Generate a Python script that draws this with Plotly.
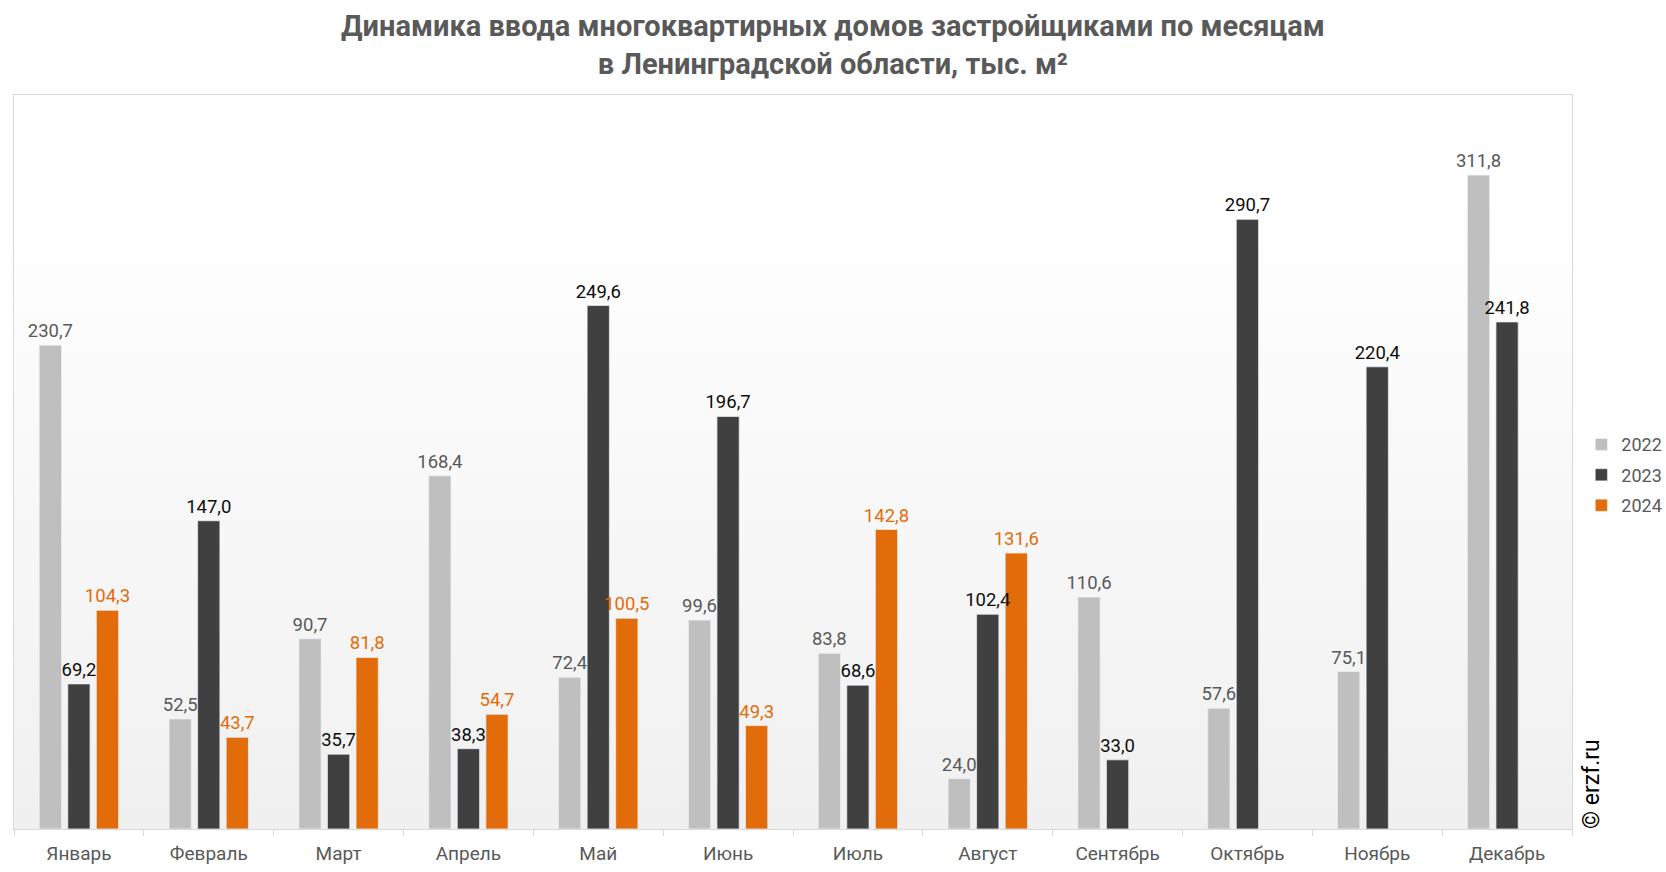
import plotly.graph_objects as go

months = ["Январь", "Февраль", "Март", "Апрель", "Май", "Июнь", "Июль",
          "Август", "Сентябрь", "Октябрь", "Ноябрь", "Декабрь"]
v2022 = [230.7, 52.5, 90.7, 168.4, 72.4, 99.6, 83.8, 24.0, 110.6, 57.6, 75.1, 311.8]
v2023 = [69.2, 147.0, 35.7, 38.3, 249.6, 196.7, 68.6, 102.4, 33.0, 290.7, 220.4, 241.8]
v2024 = [104.3, 43.7, 81.8, 54.7, 100.5, 49.3, 142.8, 131.6, None, None, None, None]

series = [
    ("2022", v2022, "#BFBFBF", "#595959"),
    ("2023", v2023, "#404040", "#0D0D0D"),
    ("2024", v2024, "#E36C0A", "#E36C0A"),
]

def fmt(v):
    return "" if v is None else f"{v:.1f}".replace(".", ",")

fig = go.Figure()
# bars
for name, vals, color, tcolor in series:
    fig.add_trace(go.Bar(
        x=months, y=vals, name=name, offsetgroup=name, legendgroup=name,
        marker=dict(color=color, line=dict(color="rgba(255,255,255,0.35)", width=1)),
        cliponaxis=False,
    ))
# value labels drawn above all bars
for name, vals, color, tcolor in series:
    fig.add_trace(go.Bar(
        x=months, y=vals, name=name, offsetgroup=name, legendgroup=name,
        showlegend=False, hoverinfo="skip",
        marker=dict(color="rgba(0,0,0,0)"),
        text=[fmt(v) for v in vals], textposition="outside",
        textfont=dict(family="Roboto", size=18.5, color=tcolor),
        constraintext="none", cliponaxis=False,
    ))

grad_svg = ("data:image/svg+xml;utf8,<svg xmlns='http://www.w3.org/2000/svg' width='100' height='100' preserveAspectRatio='none'>"
            "<defs><linearGradient id='g' x1='0' y1='0' x2='0' y2='1'>"
            "<stop offset='0' stop-color='%23ffffff'/><stop offset='0.15' stop-color='%23ffffff'/>"
            "<stop offset='1' stop-color='%23f0f0f0'/></linearGradient></defs>"
            "<rect width='100' height='100' fill='url(%23g)'/></svg>")

title_txt = "Динамика ввода многоквартирных домов застройщиками по месяцам<br>в Ленинградской области, тыс. м²"

fig.update_layout(
    width=1666, height=872,
    margin=dict(l=14, r=94, t=95, b=43, autoexpand=False),
    paper_bgcolor="white",
    plot_bgcolor="rgba(0,0,0,0)",
    barmode="group", bargap=0.34, bargroupgap=0.22,
    font=dict(family="Roboto", color="#595959"),
    showlegend=True,
    legend=dict(
        xref="paper", x=1.006, xanchor="left",
        yref="container", y=0.455, yanchor="middle",
        font=dict(size=18, color="#595959"),
        bgcolor="rgba(0,0,0,0)", tracegroupgap=4, itemwidth=30,
    ),
    images=[dict(source=grad_svg, xref="paper", yref="paper", x=0, y=1,
                 sizex=1, sizey=1, xanchor="left", yanchor="top",
                 sizing="stretch", layer="below")],
    annotations=[
        dict(text=title_txt, xref="paper", yref="paper", x=0.5255, y=1.068,
             xanchor="center", yanchor="middle", showarrow=False,
             font=dict(family="Roboto", size=29, color="#595959", weight="bold")),
        dict(text="© erzf.ru", textangle=-90, xref="paper", yref="paper",
             x=1.0125, y=-0.002, xanchor="center", yanchor="bottom",
             showarrow=False, font=dict(family="Roboto", size=23, color="#000000")),
    ],
)
fig.update_xaxes(
    showline=True, linecolor="#D9D9D9", linewidth=1, mirror=True,
    ticks="outside", tickson="boundaries", ticklen=6, tickcolor="#D9D9D9",
    ticklabelstandoff=7, automargin=False,
    tickfont=dict(size=19, color="#595959"), showgrid=False,
)
fig.update_yaxes(
    range=[0, 350], visible=True, showticklabels=False, showgrid=False, automargin=False,
    zeroline=False, showline=True, linecolor="#D9D9D9", mirror=True, ticks="",
)

fig.write_html("out.html")
